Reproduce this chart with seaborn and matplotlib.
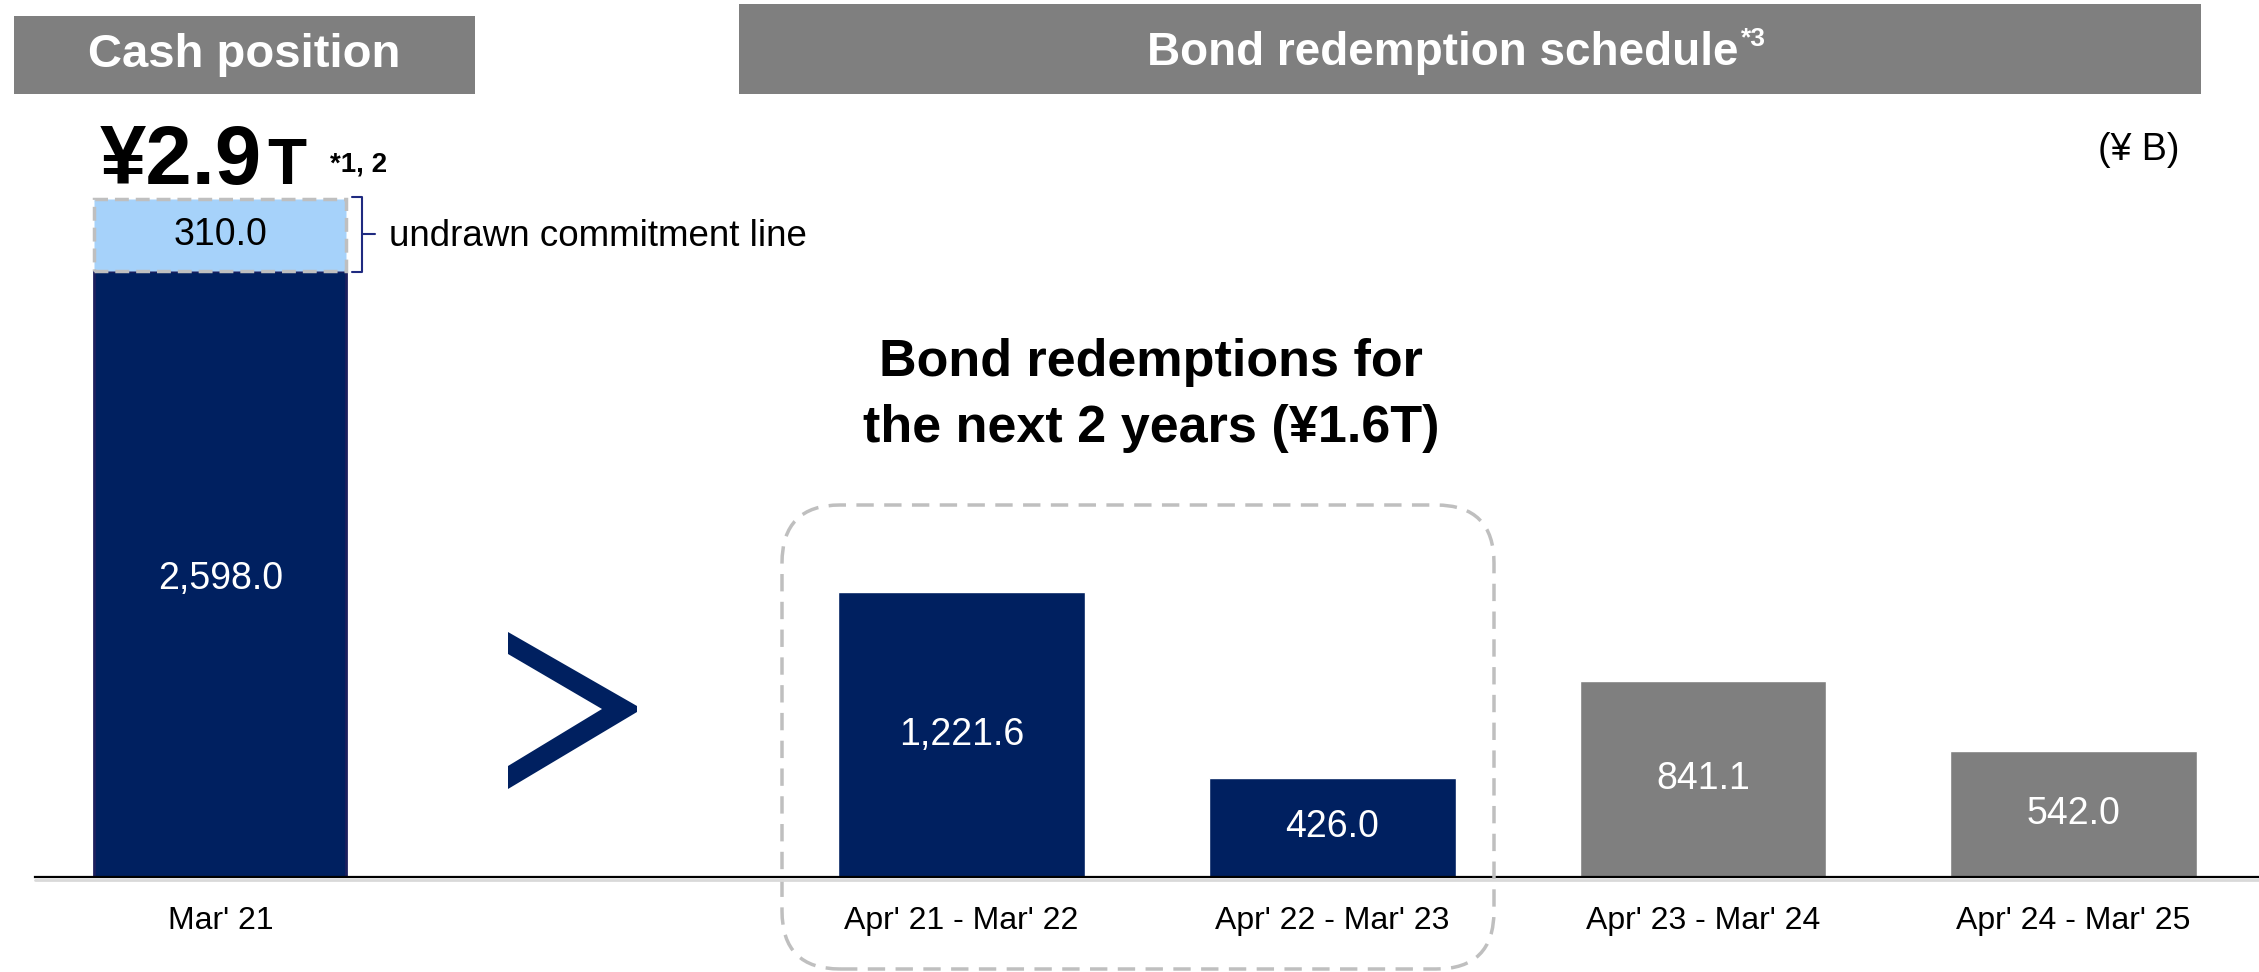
import matplotlib
matplotlib.use("Agg")
import matplotlib.pyplot as plt
import matplotlib.transforms as mtransforms
from matplotlib.patches import Rectangle, FancyBboxPatch, Polygon
from matplotlib.lines import Line2D
import pandas as pd
import seaborn as sns

# --------------------------------------------------
# Data (¥ B)
# --------------------------------------------------

cash_date = ["Mar' 21"]
cash_on_hand = [2598.0]
commitment_line = [310.0]

bond_periods = [
    "Apr' 21 - Mar' 22",
    "Apr' 22 - Mar' 23",
    "Apr' 23 - Mar' 24",
    "Apr' 24 - Mar' 25",
]
bond_values = [1221.6, 426.0, 841.1, 542.0]
next_two_years = bond_periods[:2]

# --------------------------------------------------
# Style
# --------------------------------------------------

NAVY = "#002060"
LIGHT = "#a6d2fa"
GREY = "#7f7f7f"
DASH = "#bfbfbf"

W, H = 2259, 972

sns.set_style("white")
plt.rcParams["font.family"] = ["Liberation Sans", "DejaVu Sans"]
plt.rcParams["text.color"] = "black"


def fx(x):
    return x / W


def fy(y):
    return 1 - y / H


fig = plt.figure(figsize=(W / 100, H / 100), dpi=100)
ax = fig.add_axes([fx(35), fy(877), 1 - fx(35), 877 / H])

order = cash_date + [" "] + bond_periods

# --------------------------------------------------
# Bars
# --------------------------------------------------

bond_df = pd.DataFrame({"period": bond_periods, "value": bond_values})
palette = {p: (NAVY if p in next_two_years else GREY) for p in bond_periods}

sns.barplot(
    data=bond_df, x="period", y="value", hue="period", order=order,
    palette=palette, width=0.665, saturation=1, legend=False, ax=ax,
)

sns.barplot(
    x=cash_date, y=cash_on_hand, order=order, color=NAVY, width=0.68,
    saturation=1, edgecolor="#1c1f5e", linewidth=2, ax=ax,
)

cash_pos = order.index(cash_date[0])
ax.bar(cash_pos, commitment_line, bottom=cash_on_hand, width=0.68,
       color=LIGHT, edgecolor=DASH, linestyle=(0, (4, 2)), linewidth=2.5)

ax.set_xlim(-0.5, len(order) - 0.5)
ax.set_ylim(0, 3760)

# value labels
ax.text(cash_pos, cash_on_hand[0] / 2 - 20, f"{cash_on_hand[0]:,.1f}",
        color="white", fontsize=27, ha="center", va="center")
ax.text(cash_pos, cash_on_hand[0] + commitment_line[0] / 2,
        f"{commitment_line[0]:,.1f}", color="black", fontsize=27,
        ha="center", va="center")
for p, v in zip(bond_periods, bond_values):
    ax.text(order.index(p), v / 2, f"{v:,.1f}", color="white",
            fontsize=27, ha="center", va="center")

ax.set_xlabel("")
ax.set_ylabel("")
ax.set_yticks([])
ax.tick_params(axis="x", length=0, pad=21, labelsize=23,
               colors="black", labelcolor="black")
sns.despine(ax=ax, left=True)
ax.spines["bottom"].set_color("black")
ax.spines["bottom"].set_linewidth(1.6)
ax.patch.set_alpha(0)

fig.add_artist(Line2D([fx(35), 1], [fy(880), fy(880)], color="#d9d9d9", lw=2))

# --------------------------------------------------
# Headers
# --------------------------------------------------

fig.add_artist(Rectangle((fx(14), fy(94)), (475 - 14) / W, (94 - 16) / H,
                         transform=fig.transFigure, color=GREY, lw=0))
fig.text(fx(244), fy(55), "Cash position", color="white", fontsize=34,
         fontweight="bold", ha="center", va="center")

fig.add_artist(Rectangle((fx(739), fy(94)), (2201 - 739) / W, (94 - 4) / H,
                         transform=fig.transFigure, color=GREY, lw=0))
bond_title = fig.text(fx(1443), fy(65), "Bond redemption schedule",
                      color="white", fontsize=33, fontweight="bold",
                      ha="center", va="baseline")
renderer = fig.canvas.get_renderer()
title_end = bond_title.get_window_extent(renderer).x1
fig.text(title_end / W + 0.0008, fy(46), "*3", color="white", fontsize=19,
         fontweight="bold", ha="left", va="baseline")

fig.text(fx(2180), fy(160), "(¥ B)", fontsize=27, ha="right", va="baseline")

# --------------------------------------------------
# Cash total annotation
# --------------------------------------------------

fig.text(fx(100), fy(184), "¥2.9", fontsize=60, fontweight="bold",
         ha="left", va="baseline")
fig.text(fx(267), fy(184), "T", fontsize=46, fontweight="bold",
         ha="left", va="baseline")
fig.text(fx(330), fy(172), "*1, 2", fontsize=20, fontweight="bold",
         ha="left", va="baseline")

# bracket for the commitment line
bx = 362
fig.add_artist(Line2D([fx(352), fx(bx), fx(bx), fx(352)],
                      [fy(197), fy(197), fy(272), fy(272)],
                      color="#1f2a80", lw=1.5))
fig.add_artist(Line2D([fx(bx), fx(375)], [fy(234), fy(234)],
                      color="#1f2a80", lw=1.5))
fig.text(fx(389), fy(236), "undrawn commitment line", fontsize=26.5,
         ha="left", va="center")

# --------------------------------------------------
# Chevron and 2-year box
# --------------------------------------------------

chevron = [(508, 632), (637, 706), (637, 712), (508, 789), (508, 766),
           (602, 709), (508, 654)]
fig.add_artist(Polygon([(fx(x), fy(y)) for x, y in chevron], closed=True,
                       transform=fig.transFigure, color=NAVY, lw=0))

fig.add_artist(FancyBboxPatch(
    (782, H - 969), 1494 - 782, 969 - 505,
    boxstyle="round,pad=0,rounding_size=58",
    transform=mtransforms.IdentityTransform(),
    fill=False, edgecolor=DASH, linewidth=2.5, linestyle=(0, (5, 3)),
))

fig.text(fx(1151), fy(376), "Bond redemptions for", fontsize=37.5,
         fontweight="bold", ha="center", va="baseline")
fig.text(fx(1151), fy(442), "the next 2 years (¥1.6T)", fontsize=37.5,
         fontweight="bold", ha="center", va="baseline")

fig.savefig("out.png", dpi=100)
